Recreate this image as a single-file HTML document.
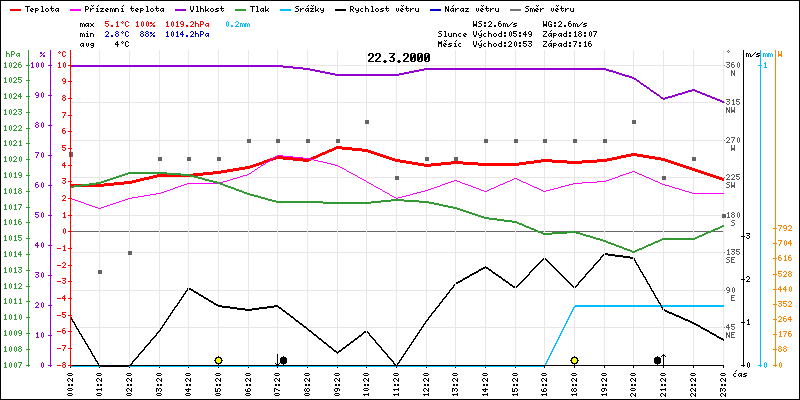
<!DOCTYPE html>
<html><head><meta charset="utf-8"><title>chart</title>
<style>
html,body{margin:0;padding:0;background:#fff;}
body{width:800px;height:400px;overflow:hidden;}
svg{display:block;font-family:"Liberation Sans",sans-serif;}
rect,polyline,path{shape-rendering:crispEdges;}
</style></head><body>
<svg width="800" height="400" viewBox="0 0 800 400">
<rect x="0" y="0" width="800" height="400" fill="#fff"/>
<defs><path id="b2e" d="M3 9h2v1h-2zM2 10h4v1h-4zM3 11h2v1h-2z"/><path id="b30" d="M2 2h4v1h-4zM1 3h2v1h-2zM5 3h2v1h-2zM1 4h2v1h-2zM4 4h3v1h-3zM1 5h2v1h-2zM4 5h3v1h-3zM1 6h6v1h-6zM1 7h3v1h-3zM5 7h2v1h-2zM1 8h3v1h-3zM5 8h2v1h-2zM1 9h2v1h-2zM5 9h2v1h-2zM2 10h4v1h-4z"/><path id="b32" d="M2 2h4v1h-4zM1 3h2v1h-2zM5 3h2v1h-2zM1 4h2v1h-2zM5 4h2v1h-2zM5 5h2v1h-2zM4 6h2v1h-2zM3 7h2v1h-2zM2 8h2v1h-2zM1 9h2v1h-2zM1 10h6v1h-6z"/><path id="b33" d="M1 2h6v1h-6zM5 3h2v1h-2zM4 4h2v1h-2zM3 5h2v1h-2zM2 6h4v1h-4zM5 7h2v1h-2zM5 8h2v1h-2zM1 9h2v1h-2zM5 9h2v1h-2zM2 10h4v1h-4z"/><path id="g10d" d="M3 0h1v1h-1zM2 1h1v1h-1zM1 3h2v1h-2zM0 4h1v1h-1zM0 5h1v1h-1zM1 6h2v1h-2z"/><path id="g11b" d="M1 0h1v1h-1zM3 0h1v1h-1zM2 1h1v1h-1zM1 3h2v1h-2zM0 4h1v1h-1zM2 4h2v1h-2zM0 5h2v1h-2zM1 6h2v1h-2z"/><path id="g159" d="M1 0h1v1h-1zM3 0h1v1h-1zM2 1h1v1h-1zM0 3h1v1h-1zM2 3h2v1h-2zM0 4h2v1h-2zM0 5h1v1h-1zM0 6h1v1h-1z"/><path id="g17e" d="M1 0h1v1h-1zM3 0h1v1h-1zM2 1h1v1h-1zM0 3h4v1h-4zM2 4h1v1h-1zM1 5h1v1h-1zM0 6h4v1h-4z"/><path id="g25" d="M0 2h2v1h-2zM4 2h1v1h-1zM0 3h2v1h-2zM3 3h1v1h-1zM2 4h1v1h-1zM1 5h1v1h-1zM3 5h2v1h-2zM0 6h1v1h-1zM3 6h2v1h-2z"/><path id="g2d" d="M0 4h4v1h-4z"/><path id="g2e" d="M1 5h2v1h-2zM1 6h2v1h-2z"/><path id="g2f" d="M4 2h1v1h-1zM3 3h1v1h-1zM2 4h1v1h-1zM1 5h1v1h-1zM0 6h1v1h-1z"/><path id="g30" d="M2 1h1v1h-1zM1 2h1v1h-1zM3 2h1v1h-1zM1 3h1v1h-1zM3 3h1v1h-1zM1 4h1v1h-1zM3 4h1v1h-1zM1 5h1v1h-1zM3 5h1v1h-1zM2 6h1v1h-1z"/><path id="g31" d="M2 1h1v1h-1zM1 2h2v1h-2zM2 3h1v1h-1zM2 4h1v1h-1zM2 5h1v1h-1zM1 6h3v1h-3z"/><path id="g32" d="M1 1h2v1h-2zM0 2h1v1h-1zM3 2h1v1h-1zM3 3h1v1h-1zM2 4h1v1h-1zM1 5h1v1h-1zM0 6h4v1h-4z"/><path id="g33" d="M0 1h4v1h-4zM3 2h1v1h-1zM1 3h2v1h-2zM3 4h1v1h-1zM0 5h1v1h-1zM3 5h1v1h-1zM1 6h2v1h-2z"/><path id="g34" d="M2 1h1v1h-1zM1 2h2v1h-2zM0 3h1v1h-1zM2 3h1v1h-1zM0 4h4v1h-4zM2 5h1v1h-1zM2 6h1v1h-1z"/><path id="g35" d="M0 1h4v1h-4zM0 2h1v1h-1zM0 3h3v1h-3zM3 4h1v1h-1zM0 5h1v1h-1zM3 5h1v1h-1zM1 6h2v1h-2z"/><path id="g36" d="M1 1h2v1h-2zM0 2h1v1h-1zM0 3h3v1h-3zM0 4h1v1h-1zM3 4h1v1h-1zM0 5h1v1h-1zM3 5h1v1h-1zM1 6h2v1h-2z"/><path id="g37" d="M0 1h4v1h-4zM3 2h1v1h-1zM2 3h1v1h-1zM2 4h1v1h-1zM1 5h1v1h-1zM1 6h1v1h-1z"/><path id="g38" d="M1 1h2v1h-2zM0 2h1v1h-1zM3 2h1v1h-1zM1 3h2v1h-2zM0 4h1v1h-1zM3 4h1v1h-1zM0 5h1v1h-1zM3 5h1v1h-1zM1 6h2v1h-2z"/><path id="g39" d="M1 1h2v1h-2zM0 2h1v1h-1zM3 2h1v1h-1zM0 3h1v1h-1zM3 3h1v1h-1zM1 4h3v1h-3zM3 5h1v1h-1zM1 6h2v1h-2z"/><path id="g3a" d="M1 2h2v1h-2zM1 3h2v1h-2zM1 5h2v1h-2zM1 6h2v1h-2z"/><path id="g43" d="M1 1h2v1h-2zM0 2h1v1h-1zM3 2h1v1h-1zM0 3h1v1h-1zM0 4h1v1h-1zM0 5h1v1h-1zM3 5h1v1h-1zM1 6h2v1h-2z"/><path id="g45" d="M0 1h4v1h-4zM0 2h1v1h-1zM0 3h3v1h-3zM0 4h1v1h-1zM0 5h1v1h-1zM0 6h4v1h-4z"/><path id="g47" d="M1 1h2v1h-2zM0 2h1v1h-1zM3 2h1v1h-1zM0 3h1v1h-1zM0 4h1v1h-1zM2 4h2v1h-2zM0 5h1v1h-1zM3 5h1v1h-1zM1 6h3v1h-3z"/><path id="g4d" d="M0 1h1v1h-1zM3 1h1v1h-1zM0 2h4v1h-4zM0 3h4v1h-4zM0 4h1v1h-1zM3 4h1v1h-1zM0 5h1v1h-1zM3 5h1v1h-1zM0 6h1v1h-1zM3 6h1v1h-1z"/><path id="g4e" d="M0 1h1v1h-1zM3 1h1v1h-1zM0 2h2v1h-2zM3 2h1v1h-1zM0 3h2v1h-2zM3 3h1v1h-1zM0 4h1v1h-1zM2 4h2v1h-2zM0 5h1v1h-1zM2 5h2v1h-2zM0 6h1v1h-1zM3 6h1v1h-1z"/><path id="g50" d="M0 1h3v1h-3zM0 2h1v1h-1zM3 2h1v1h-1zM0 3h1v1h-1zM3 3h1v1h-1zM0 4h3v1h-3zM0 5h1v1h-1zM0 6h1v1h-1z"/><path id="g52" d="M0 1h3v1h-3zM0 2h1v1h-1zM3 2h1v1h-1zM0 3h1v1h-1zM3 3h1v1h-1zM0 4h3v1h-3zM0 5h1v1h-1zM2 5h1v1h-1zM0 6h1v1h-1zM3 6h1v1h-1z"/><path id="g53" d="M1 1h3v1h-3zM0 2h1v1h-1zM1 3h2v1h-2zM3 4h1v1h-1zM3 5h1v1h-1zM0 6h3v1h-3z"/><path id="g54" d="M0 1h5v1h-5zM2 2h1v1h-1zM2 3h1v1h-1zM2 4h1v1h-1zM2 5h1v1h-1zM2 6h1v1h-1z"/><path id="g56" d="M0 1h1v1h-1zM3 1h1v1h-1zM0 2h1v1h-1zM3 2h1v1h-1zM0 3h1v1h-1zM3 3h1v1h-1zM0 4h1v1h-1zM3 4h1v1h-1zM1 5h2v1h-2zM1 6h2v1h-2z"/><path id="g57" d="M0 1h1v1h-1zM3 1h1v1h-1zM0 2h1v1h-1zM3 2h1v1h-1zM0 3h1v1h-1zM3 3h1v1h-1zM0 4h4v1h-4zM0 5h4v1h-4zM0 6h1v1h-1zM3 6h1v1h-1z"/><path id="g5a" d="M0 1h4v1h-4zM3 2h1v1h-1zM2 3h1v1h-1zM1 4h1v1h-1zM0 5h1v1h-1zM0 6h4v1h-4z"/><path id="g61" d="M1 3h3v1h-3zM0 4h1v1h-1zM3 4h1v1h-1zM0 5h1v1h-1zM2 5h2v1h-2zM1 6h1v1h-1zM3 6h1v1h-1z"/><path id="g63" d="M1 3h2v1h-2zM0 4h1v1h-1zM0 5h1v1h-1zM1 6h2v1h-2z"/><path id="g64" d="M3 1h1v1h-1zM3 2h1v1h-1zM1 3h3v1h-3zM0 4h1v1h-1zM3 4h1v1h-1zM0 5h1v1h-1zM3 5h1v1h-1zM1 6h3v1h-3z"/><path id="g65" d="M1 3h2v1h-2zM0 4h1v1h-1zM2 4h2v1h-2zM0 5h2v1h-2zM1 6h2v1h-2z"/><path id="g67" d="M1 3h3v1h-3zM0 4h1v1h-1zM3 4h1v1h-1zM1 5h3v1h-3zM3 6h1v1h-1zM1 7h2v1h-2z"/><path id="g68" d="M0 1h1v1h-1zM0 2h1v1h-1zM0 3h3v1h-3zM0 4h1v1h-1zM3 4h1v1h-1zM0 5h1v1h-1zM3 5h1v1h-1zM0 6h1v1h-1zM3 6h1v1h-1z"/><path id="g69" d="M2 1h1v1h-1zM1 3h2v1h-2zM2 4h1v1h-1zM2 5h1v1h-1zM1 6h3v1h-3z"/><path id="g6b" d="M0 1h1v1h-1zM0 2h1v1h-1zM0 3h1v1h-1zM3 3h1v1h-1zM0 4h1v1h-1zM2 4h1v1h-1zM0 5h3v1h-3zM0 6h1v1h-1zM3 6h1v1h-1z"/><path id="g6c" d="M1 1h2v1h-2zM2 2h1v1h-1zM2 3h1v1h-1zM2 4h1v1h-1zM2 5h1v1h-1zM1 6h3v1h-3z"/><path id="g6d" d="M0 3h2v1h-2zM3 3h1v1h-1zM0 4h1v1h-1zM2 4h1v1h-1zM4 4h1v1h-1zM0 5h1v1h-1zM2 5h1v1h-1zM4 5h1v1h-1zM0 6h1v1h-1zM2 6h1v1h-1zM4 6h1v1h-1z"/><path id="g6e" d="M0 3h3v1h-3zM0 4h1v1h-1zM3 4h1v1h-1zM0 5h1v1h-1zM3 5h1v1h-1zM0 6h1v1h-1zM3 6h1v1h-1z"/><path id="g6f" d="M1 3h2v1h-2zM0 4h1v1h-1zM3 4h1v1h-1zM0 5h1v1h-1zM3 5h1v1h-1zM1 6h2v1h-2z"/><path id="g70" d="M0 3h3v1h-3zM0 4h1v1h-1zM3 4h1v1h-1zM0 5h3v1h-3zM0 6h1v1h-1zM0 7h1v1h-1z"/><path id="g72" d="M0 3h1v1h-1zM2 3h2v1h-2zM0 4h2v1h-2zM0 5h1v1h-1zM0 6h1v1h-1z"/><path id="g73" d="M1 3h3v1h-3zM0 4h2v1h-2zM2 5h2v1h-2zM0 6h3v1h-3z"/><path id="g74" d="M1 1h1v1h-1zM1 2h1v1h-1zM0 3h4v1h-4zM1 4h1v1h-1zM1 5h1v1h-1zM3 5h1v1h-1zM2 6h1v1h-1z"/><path id="g75" d="M0 3h1v1h-1zM3 3h1v1h-1zM0 4h1v1h-1zM3 4h1v1h-1zM0 5h1v1h-1zM3 5h1v1h-1zM1 6h3v1h-3z"/><path id="g76" d="M1 3h1v1h-1zM3 3h1v1h-1zM1 4h1v1h-1zM3 4h1v1h-1zM1 5h1v1h-1zM3 5h1v1h-1zM2 6h1v1h-1z"/><path id="g78" d="M0 3h1v1h-1zM3 3h1v1h-1zM1 4h2v1h-2zM1 5h2v1h-2zM0 6h1v1h-1zM3 6h1v1h-1z"/><path id="g79" d="M0 3h1v1h-1zM3 3h1v1h-1zM0 4h1v1h-1zM3 4h1v1h-1zM1 5h3v1h-3zM3 6h1v1h-1zM1 7h2v1h-2z"/><path id="g7a" d="M0 3h4v1h-4zM2 4h1v1h-1zM1 5h1v1h-1zM0 6h4v1h-4z"/><path id="gb0" d="M2 1h1v1h-1zM1 2h1v1h-1zM3 2h1v1h-1zM2 3h1v1h-1z"/><path id="ge1" d="M3 0h1v1h-1zM2 1h1v1h-1zM1 3h3v1h-3zM0 4h1v1h-1zM3 4h1v1h-1zM0 5h1v1h-1zM2 5h2v1h-2zM1 6h1v1h-1zM3 6h1v1h-1z"/><path id="ged" d="M3 0h1v1h-1zM2 1h1v1h-1zM1 3h2v1h-2zM2 4h1v1h-1zM2 5h1v1h-1zM1 6h3v1h-3z"/><path id="gfd" d="M3 0h1v1h-1zM2 1h1v1h-1zM0 3h1v1h-1zM3 3h1v1h-1zM0 4h1v1h-1zM3 4h1v1h-1zM1 5h3v1h-3zM3 6h1v1h-1zM1 7h2v1h-2z"/></defs>
<rect x="71" y="231" width="652" height="1" fill="#666666"/>
<rect x="99" y="50" width="1" height="315" fill="#ebe6e6"/>
<rect x="129" y="50" width="1" height="315" fill="#ebe6e6"/>
<rect x="159" y="50" width="1" height="315" fill="#ebe6e6"/>
<rect x="188" y="50" width="1" height="315" fill="#ebe6e6"/>
<rect x="218" y="50" width="1" height="315" fill="#ebe6e6"/>
<rect x="248" y="50" width="1" height="315" fill="#ebe6e6"/>
<rect x="277" y="50" width="1" height="315" fill="#ebe6e6"/>
<rect x="307" y="50" width="1" height="315" fill="#ebe6e6"/>
<rect x="337" y="50" width="1" height="315" fill="#ebe6e6"/>
<rect x="366" y="50" width="1" height="315" fill="#ebe6e6"/>
<rect x="396" y="50" width="1" height="315" fill="#ebe6e6"/>
<rect x="426" y="50" width="1" height="315" fill="#ebe6e6"/>
<rect x="455" y="50" width="1" height="315" fill="#ebe6e6"/>
<rect x="485" y="50" width="1" height="315" fill="#ebe6e6"/>
<rect x="515" y="50" width="1" height="315" fill="#ebe6e6"/>
<rect x="544" y="50" width="1" height="315" fill="#ebe6e6"/>
<rect x="574" y="50" width="1" height="315" fill="#ebe6e6"/>
<rect x="604" y="50" width="1" height="315" fill="#ebe6e6"/>
<rect x="633" y="50" width="1" height="315" fill="#ebe6e6"/>
<rect x="663" y="50" width="1" height="315" fill="#ebe6e6"/>
<rect x="693" y="50" width="1" height="315" fill="#ebe6e6"/>
<rect x="723" y="50" width="1" height="315" fill="#ebe6e6"/>
<rect x="71" y="65" width="653" height="1" fill="#ebe6e6"/>
<rect x="71" y="102" width="653" height="1" fill="#ebe6e6"/>
<rect x="71" y="140" width="653" height="1" fill="#ebe6e6"/>
<rect x="71" y="177" width="653" height="1" fill="#ebe6e6"/>
<rect x="71" y="215" width="653" height="1" fill="#ebe6e6"/>
<rect x="71" y="252" width="653" height="1" fill="#ebe6e6"/>
<rect x="71" y="290" width="653" height="1" fill="#ebe6e6"/>
<rect x="71" y="327" width="653" height="1" fill="#ebe6e6"/>
<rect x="70" y="365" width="1" height="3" fill="#000"/>
<rect x="99" y="365" width="1" height="3" fill="#000"/>
<rect x="129" y="365" width="1" height="3" fill="#000"/>
<rect x="159" y="365" width="1" height="3" fill="#000"/>
<rect x="188" y="365" width="1" height="3" fill="#000"/>
<rect x="218" y="365" width="1" height="3" fill="#000"/>
<rect x="248" y="365" width="1" height="3" fill="#000"/>
<rect x="277" y="365" width="1" height="3" fill="#000"/>
<rect x="307" y="365" width="1" height="3" fill="#000"/>
<rect x="337" y="365" width="1" height="3" fill="#000"/>
<rect x="366" y="365" width="1" height="3" fill="#000"/>
<rect x="396" y="365" width="1" height="3" fill="#000"/>
<rect x="426" y="365" width="1" height="3" fill="#000"/>
<rect x="455" y="365" width="1" height="3" fill="#000"/>
<rect x="485" y="365" width="1" height="3" fill="#000"/>
<rect x="515" y="365" width="1" height="3" fill="#000"/>
<rect x="544" y="365" width="1" height="3" fill="#000"/>
<rect x="574" y="365" width="1" height="3" fill="#000"/>
<rect x="604" y="365" width="1" height="3" fill="#000"/>
<rect x="633" y="365" width="1" height="3" fill="#000"/>
<rect x="663" y="365" width="1" height="3" fill="#000"/>
<rect x="693" y="365" width="1" height="3" fill="#000"/>
<rect x="723" y="365" width="1" height="3" fill="#000"/>
<rect x="724" y="65" width="1" height="1" fill="#7a7a7a"/>
<g fill="#5c5c5c" transform="translate(726,61)"><use href="#g33" x="0"/><use href="#g36" x="5"/><use href="#g30" x="10"/></g>
<g fill="#5c5c5c" transform="translate(731,69)"><use href="#g4e" x="0"/></g>
<rect x="724" y="102" width="1" height="1" fill="#7a7a7a"/>
<g fill="#5c5c5c" transform="translate(726,98)"><use href="#g33" x="0"/><use href="#g31" x="5"/><use href="#g35" x="10"/></g>
<g fill="#5c5c5c" transform="translate(726,106)"><use href="#g4e" x="0"/><use href="#g57" x="5"/></g>
<rect x="724" y="140" width="1" height="1" fill="#7a7a7a"/>
<g fill="#5c5c5c" transform="translate(726,136)"><use href="#g32" x="0"/><use href="#g37" x="5"/><use href="#g30" x="10"/></g>
<g fill="#5c5c5c" transform="translate(731,144)"><use href="#g57" x="0"/></g>
<rect x="724" y="177" width="1" height="1" fill="#7a7a7a"/>
<g fill="#5c5c5c" transform="translate(726,173)"><use href="#g32" x="0"/><use href="#g32" x="5"/><use href="#g35" x="10"/></g>
<g fill="#5c5c5c" transform="translate(726,181)"><use href="#g53" x="0"/><use href="#g57" x="5"/></g>
<rect x="724" y="215" width="1" height="1" fill="#7a7a7a"/>
<g fill="#5c5c5c" transform="translate(726,211)"><use href="#g31" x="0"/><use href="#g38" x="5"/><use href="#g30" x="10"/></g>
<g fill="#5c5c5c" transform="translate(731,219)"><use href="#g53" x="0"/></g>
<rect x="724" y="252" width="1" height="1" fill="#7a7a7a"/>
<g fill="#5c5c5c" transform="translate(726,248)"><use href="#g31" x="0"/><use href="#g33" x="5"/><use href="#g35" x="10"/></g>
<g fill="#5c5c5c" transform="translate(726,256)"><use href="#g53" x="0"/><use href="#g45" x="5"/></g>
<rect x="724" y="290" width="1" height="1" fill="#7a7a7a"/>
<g fill="#5c5c5c" transform="translate(726,286)"><use href="#g39" x="0"/><use href="#g30" x="5"/></g>
<g fill="#5c5c5c" transform="translate(731,294)"><use href="#g45" x="0"/></g>
<rect x="724" y="327" width="1" height="1" fill="#7a7a7a"/>
<g fill="#5c5c5c" transform="translate(726,323)"><use href="#g34" x="0"/><use href="#g35" x="5"/></g>
<g fill="#5c5c5c" transform="translate(726,331)"><use href="#g4e" x="0"/><use href="#g45" x="5"/></g>
<g fill="#5c5c5c" transform="translate(726,49)"><use href="#gb0" x="0"/></g>
<path d="M70.00,184.00 L100.00,184.00 L100.00,187.00 L70.00,187.00Z M99.00,184.05 L130.00,180.95 L130.00,183.95 L99.00,187.05Z M129.00,181.12 L160.00,173.88 L160.00,176.88 L129.00,184.12Z M159.00,174.00 L189.00,174.00 L189.00,177.00 L159.00,177.00Z M188.00,174.05 L219.00,170.95 L219.00,173.95 L188.00,177.05Z M218.00,171.08 L249.00,165.92 L249.00,168.92 L218.00,174.08Z M248.00,166.17 L278.00,155.83 L278.00,158.83 L248.00,169.17Z M277.00,155.95 L308.00,159.05 L308.00,162.05 L277.00,158.95Z M307.00,159.22 L338.00,145.78 L338.00,148.78 L307.00,162.22Z M337.00,145.95 L367.00,149.05 L367.00,152.05 L337.00,148.95Z M366.00,148.83 L397.00,159.17 L397.00,162.17 L366.00,151.83Z M396.00,158.92 L427.00,164.08 L427.00,167.08 L396.00,161.92Z M426.00,164.05 L456.00,160.95 L456.00,163.95 L426.00,167.05Z M455.00,160.97 L486.00,163.03 L486.00,166.03 L455.00,163.97Z M485.00,163.00 L516.00,163.00 L516.00,166.00 L485.00,166.00Z M515.00,163.07 L545.00,158.93 L545.00,161.93 L515.00,166.07Z M544.00,158.97 L575.00,161.03 L575.00,164.03 L544.00,161.97Z M574.00,161.03 L605.00,158.97 L605.00,161.97 L574.00,164.03Z M604.00,159.10 L634.00,152.90 L634.00,155.90 L604.00,162.10Z M633.00,152.92 L664.00,158.08 L664.00,161.08 L633.00,155.92Z M663.00,157.83 L694.00,168.17 L694.00,171.17 L663.00,160.83Z M693.00,167.83 L724.00,178.17 L724.00,181.17 L693.00,170.83Z" fill="#ff0000" shape-rendering="crispEdges"/>
<path d="M70.00,197.83 L100.00,208.17 L100.00,209.17 L70.00,198.83Z M99.00,208.17 L130.00,197.83 L130.00,198.83 L99.00,209.17Z M129.00,198.08 L160.00,192.92 L160.00,193.92 L129.00,199.08Z M159.00,193.17 L189.00,182.83 L189.00,183.83 L159.00,194.17Z M188.00,183.00 L219.00,183.00 L219.00,184.00 L188.00,184.00Z M218.00,183.15 L249.00,173.85 L249.00,174.85 L218.00,184.15Z M248.00,174.33 L278.00,154.67 L278.00,155.67 L248.00,175.33Z M277.00,154.95 L308.00,158.05 L308.00,159.05 L277.00,155.95Z M307.00,157.88 L338.00,165.12 L338.00,166.12 L307.00,158.88Z M337.00,164.72 L367.00,181.28 L367.00,182.28 L337.00,165.72Z M366.00,180.72 L397.00,198.28 L397.00,199.28 L366.00,181.72Z M396.00,198.13 L427.00,189.87 L427.00,190.87 L396.00,199.13Z M426.00,190.17 L456.00,179.83 L456.00,180.83 L426.00,191.17Z M455.00,179.82 L486.00,191.18 L486.00,192.18 L455.00,180.82Z M485.00,191.22 L516.00,177.78 L516.00,178.78 L485.00,192.22Z M515.00,177.78 L545.00,191.22 L545.00,192.22 L515.00,178.78Z M544.00,191.13 L575.00,182.87 L575.00,183.87 L544.00,192.13Z M574.00,183.03 L605.00,180.97 L605.00,181.97 L574.00,184.03Z M604.00,181.17 L634.00,170.83 L634.00,171.83 L604.00,182.17Z M633.00,170.78 L664.00,184.22 L664.00,185.22 L633.00,171.78Z M663.00,183.85 L694.00,193.15 L694.00,194.15 L663.00,184.85Z M693.00,193.00 L724.00,193.00 L724.00,194.00 L693.00,194.00Z" fill="#ff00ff" shape-rendering="crispEdges"/>
<path d="M70.00,65.00 L100.00,65.00 L100.00,67.00 L70.00,67.00Z M99.00,65.00 L130.00,65.00 L130.00,67.00 L99.00,67.00Z M129.00,65.00 L160.00,65.00 L160.00,67.00 L129.00,67.00Z M159.00,65.00 L189.00,65.00 L189.00,67.00 L159.00,67.00Z M188.00,65.00 L219.00,65.00 L219.00,67.00 L188.00,67.00Z M218.00,65.00 L249.00,65.00 L249.00,67.00 L218.00,67.00Z M248.00,65.00 L278.00,65.00 L278.00,67.00 L248.00,67.00Z M277.00,64.95 L308.00,68.05 L308.00,70.05 L277.00,66.95Z M307.00,67.90 L338.00,74.10 L338.00,76.10 L307.00,69.90Z M337.00,74.00 L367.00,74.00 L367.00,76.00 L337.00,76.00Z M366.00,74.00 L397.00,74.00 L397.00,76.00 L366.00,76.00Z M396.00,74.10 L427.00,67.90 L427.00,69.90 L396.00,76.10Z M426.00,68.00 L456.00,68.00 L456.00,70.00 L426.00,70.00Z M455.00,68.00 L486.00,68.00 L486.00,70.00 L455.00,70.00Z M485.00,68.00 L516.00,68.00 L516.00,70.00 L485.00,70.00Z M515.00,68.00 L545.00,68.00 L545.00,70.00 L515.00,70.00Z M544.00,68.00 L575.00,68.00 L575.00,70.00 L544.00,70.00Z M574.00,68.00 L605.00,68.00 L605.00,70.00 L574.00,70.00Z M604.00,67.84 L634.00,77.16 L634.00,79.16 L604.00,69.84Z M633.00,76.65 L664.00,98.35 L664.00,100.35 L633.00,78.65Z M663.00,98.15 L694.00,88.85 L694.00,90.85 L663.00,100.15Z M693.00,88.80 L724.00,101.20 L724.00,103.20 L693.00,90.80Z" fill="#9400d3" shape-rendering="crispEdges"/>
<path d="M70.00,186.07 L100.00,181.93 L100.00,183.93 L70.00,188.07Z M99.00,182.17 L130.00,171.83 L130.00,173.83 L99.00,184.17Z M129.00,172.00 L160.00,172.00 L160.00,174.00 L129.00,174.00Z M159.00,171.97 L189.00,174.03 L189.00,176.03 L159.00,173.97Z M188.00,173.87 L219.00,182.13 L219.00,184.13 L188.00,175.87Z M218.00,181.82 L249.00,193.18 L249.00,195.18 L218.00,183.82Z M248.00,192.86 L278.00,201.14 L278.00,203.14 L248.00,194.86Z M277.00,201.00 L308.00,201.00 L308.00,203.00 L277.00,203.00Z M307.00,200.98 L338.00,202.02 L338.00,204.02 L307.00,202.98Z M337.00,202.00 L367.00,202.00 L367.00,204.00 L337.00,204.00Z M366.00,202.05 L397.00,198.95 L397.00,200.95 L366.00,204.05Z M396.00,198.97 L427.00,201.03 L427.00,203.03 L396.00,200.97Z M426.00,200.90 L456.00,207.10 L456.00,209.10 L426.00,202.90Z M455.00,206.83 L486.00,217.17 L486.00,219.17 L455.00,208.83Z M485.00,216.93 L516.00,221.07 L516.00,223.07 L485.00,218.93Z M515.00,220.79 L545.00,233.21 L545.00,235.21 L515.00,222.79Z M544.00,233.03 L575.00,230.97 L575.00,232.97 L544.00,235.03Z M574.00,230.85 L605.00,240.15 L605.00,242.15 L574.00,232.85Z M604.00,239.81 L634.00,251.19 L634.00,253.19 L604.00,241.81Z M633.00,251.22 L664.00,237.78 L664.00,239.78 L633.00,253.22Z M663.00,238.00 L694.00,238.00 L694.00,240.00 L663.00,240.00Z M693.00,238.22 L724.00,224.78 L724.00,226.78 L693.00,240.22Z" fill="#339933" shape-rendering="crispEdges"/>
<path d="M70.00,365.00 L100.00,365.00 L100.00,367.00 L70.00,367.00Z M99.00,365.00 L130.00,365.00 L130.00,367.00 L99.00,367.00Z M129.00,365.00 L160.00,365.00 L160.00,367.00 L129.00,367.00Z M159.00,365.00 L189.00,365.00 L189.00,367.00 L159.00,367.00Z M188.00,365.00 L219.00,365.00 L219.00,367.00 L188.00,367.00Z M218.00,365.00 L249.00,365.00 L249.00,367.00 L218.00,367.00Z M248.00,365.00 L278.00,365.00 L278.00,367.00 L248.00,367.00Z M277.00,365.00 L308.00,365.00 L308.00,367.00 L277.00,367.00Z M307.00,365.00 L338.00,365.00 L338.00,367.00 L307.00,367.00Z M337.00,365.00 L367.00,365.00 L367.00,367.00 L337.00,367.00Z M366.00,365.00 L397.00,365.00 L397.00,367.00 L366.00,367.00Z M396.00,365.00 L427.00,365.00 L427.00,367.00 L396.00,367.00Z M426.00,365.00 L456.00,365.00 L456.00,367.00 L426.00,367.00Z M455.00,365.00 L486.00,365.00 L486.00,367.00 L455.00,367.00Z M485.00,365.00 L516.00,365.00 L516.00,367.00 L485.00,367.00Z M515.00,365.00 L545.00,365.00 L545.00,367.00 L515.00,367.00Z M574.25,305.00 L543.75,366.00 L544.75,366.00 L575.25,305.00Z M574.25,306.00 L543.75,367.00 L544.75,367.00 L575.25,306.00Z M574.00,305.00 L605.00,305.00 L605.00,307.00 L574.00,307.00Z M604.00,305.00 L634.00,305.00 L634.00,307.00 L604.00,307.00Z M633.00,305.00 L664.00,305.00 L664.00,307.00 L633.00,307.00Z M663.00,305.00 L694.00,305.00 L694.00,307.00 L663.00,307.00Z M693.00,305.00 L724.00,305.00 L724.00,307.00 L693.00,307.00Z" fill="#00bfff" shape-rendering="crispEdges"/>
<path d="M69.70,316.00 L99.30,366.00 L100.30,366.00 L70.70,316.00Z M69.70,317.00 L99.30,367.00 L100.30,367.00 L70.70,317.00Z M99.00,365.00 L130.00,365.00 L130.00,367.00 L99.00,367.00Z M159.43,330.00 L128.57,366.00 L129.57,366.00 L160.43,330.00Z M159.43,331.00 L128.57,367.00 L129.57,367.00 L160.43,331.00Z M188.34,287.00 L158.66,331.00 L159.66,331.00 L189.34,287.00Z M188.34,288.00 L158.66,332.00 L159.66,332.00 L189.34,288.00Z M188.00,286.70 L219.00,305.30 L219.00,307.30 L188.00,288.70Z M218.00,304.93 L249.00,309.07 L249.00,311.07 L218.00,306.93Z M248.00,309.07 L278.00,304.93 L278.00,306.93 L248.00,311.07Z M277.00,304.62 L308.00,328.38 L308.00,330.38 L277.00,306.62Z M307.00,327.60 L338.00,352.40 L338.00,354.40 L307.00,329.60Z M337.00,352.38 L367.00,329.62 L367.00,331.62 L337.00,354.38Z M365.57,330.00 L396.43,366.00 L397.43,366.00 L366.57,330.00Z M365.57,331.00 L396.43,367.00 L397.43,367.00 L366.57,331.00Z M426.33,320.00 L395.67,366.00 L396.67,366.00 L427.33,320.00Z M426.33,321.00 L395.67,367.00 L396.67,367.00 L427.33,321.00Z M455.39,283.00 L425.61,321.00 L426.61,321.00 L456.39,283.00Z M455.39,284.00 L425.61,322.00 L426.61,322.00 L456.39,284.00Z M455.00,283.28 L486.00,265.72 L486.00,267.72 L455.00,285.28Z M485.00,265.65 L516.00,287.35 L516.00,289.35 L485.00,267.65Z M544.48,257.00 L514.52,288.00 L515.52,288.00 L545.48,257.00Z M544.48,258.00 L514.52,289.00 L515.52,289.00 L545.48,258.00Z M544.00,256.50 L575.00,287.50 L575.00,289.50 L544.00,258.50Z M604.44,253.00 L573.56,288.00 L574.56,288.00 L605.44,253.00Z M604.44,254.00 L573.56,289.00 L574.56,289.00 L605.44,254.00Z M604.00,252.93 L634.00,257.07 L634.00,259.07 L604.00,254.93Z M632.71,257.00 L663.29,310.00 L664.29,310.00 L633.71,257.00Z M632.71,258.00 L663.29,311.00 L664.29,311.00 L633.71,258.00Z M663.00,308.78 L694.00,322.22 L694.00,324.22 L663.00,310.78Z M693.00,321.72 L724.00,339.28 L724.00,341.28 L693.00,323.72Z" fill="#000" shape-rendering="crispEdges"/>
<rect x="69" y="152" width="4" height="5" fill="#646464"/>
<rect x="98" y="270" width="4" height="4" fill="#646464"/>
<rect x="128" y="251" width="4" height="4" fill="#646464"/>
<rect x="158" y="157" width="4" height="4" fill="#646464"/>
<rect x="187" y="157" width="4" height="4" fill="#646464"/>
<rect x="217" y="157" width="4" height="4" fill="#646464"/>
<rect x="247" y="139" width="4" height="4" fill="#646464"/>
<rect x="276" y="139" width="4" height="4" fill="#646464"/>
<rect x="306" y="139" width="4" height="4" fill="#646464"/>
<rect x="336" y="139" width="4" height="4" fill="#646464"/>
<rect x="365" y="120" width="4" height="4" fill="#646464"/>
<rect x="395" y="176" width="4" height="4" fill="#646464"/>
<rect x="425" y="157" width="4" height="4" fill="#646464"/>
<rect x="454" y="157" width="4" height="4" fill="#646464"/>
<rect x="484" y="139" width="4" height="4" fill="#646464"/>
<rect x="514" y="139" width="4" height="4" fill="#646464"/>
<rect x="543" y="139" width="4" height="4" fill="#646464"/>
<rect x="573" y="139" width="4" height="4" fill="#646464"/>
<rect x="603" y="139" width="4" height="4" fill="#646464"/>
<rect x="632" y="120" width="4" height="4" fill="#646464"/>
<rect x="662" y="176" width="4" height="4" fill="#646464"/>
<rect x="692" y="157" width="4" height="4" fill="#646464"/>
<rect x="722" y="214" width="4" height="4" fill="#646464"/>
<rect x="28" y="50" width="1" height="317" fill="#339933"/>
<rect x="50" y="50" width="1" height="317" fill="#9400d3"/>
<rect x="70" y="50" width="1" height="317" fill="#ff0000"/>
<rect x="743" y="50" width="1" height="317" fill="#000"/>
<rect x="760" y="50" width="1" height="317" fill="#00bfff"/>
<rect x="775" y="50" width="1" height="317" fill="#ff8400"/>
<rect x="70" y="365" width="654" height="1" fill="#000"/>
<rect x="26" y="65" width="4" height="1" fill="#339933"/>
<g fill="#339933" transform="translate(3,61)"><use href="#g31" x="0"/><use href="#g30" x="5"/><use href="#g32" x="10"/><use href="#g36" x="15"/></g>
<rect x="26" y="80" width="4" height="1" fill="#339933"/>
<g fill="#339933" transform="translate(3,76)"><use href="#g31" x="0"/><use href="#g30" x="5"/><use href="#g32" x="10"/><use href="#g35" x="15"/></g>
<rect x="26" y="96" width="4" height="1" fill="#339933"/>
<g fill="#339933" transform="translate(3,92)"><use href="#g31" x="0"/><use href="#g30" x="5"/><use href="#g32" x="10"/><use href="#g34" x="15"/></g>
<rect x="26" y="112" width="4" height="1" fill="#339933"/>
<g fill="#339933" transform="translate(3,108)"><use href="#g31" x="0"/><use href="#g30" x="5"/><use href="#g32" x="10"/><use href="#g33" x="15"/></g>
<rect x="26" y="128" width="4" height="1" fill="#339933"/>
<g fill="#339933" transform="translate(3,124)"><use href="#g31" x="0"/><use href="#g30" x="5"/><use href="#g32" x="10"/><use href="#g32" x="15"/></g>
<rect x="26" y="143" width="4" height="1" fill="#339933"/>
<g fill="#339933" transform="translate(3,139)"><use href="#g31" x="0"/><use href="#g30" x="5"/><use href="#g32" x="10"/><use href="#g31" x="15"/></g>
<rect x="26" y="159" width="4" height="1" fill="#339933"/>
<g fill="#339933" transform="translate(3,155)"><use href="#g31" x="0"/><use href="#g30" x="5"/><use href="#g32" x="10"/><use href="#g30" x="15"/></g>
<rect x="26" y="175" width="4" height="1" fill="#339933"/>
<g fill="#339933" transform="translate(3,171)"><use href="#g31" x="0"/><use href="#g30" x="5"/><use href="#g31" x="10"/><use href="#g39" x="15"/></g>
<rect x="26" y="191" width="4" height="1" fill="#339933"/>
<g fill="#339933" transform="translate(3,187)"><use href="#g31" x="0"/><use href="#g30" x="5"/><use href="#g31" x="10"/><use href="#g38" x="15"/></g>
<rect x="26" y="207" width="4" height="1" fill="#339933"/>
<g fill="#339933" transform="translate(3,203)"><use href="#g31" x="0"/><use href="#g30" x="5"/><use href="#g31" x="10"/><use href="#g37" x="15"/></g>
<rect x="26" y="222" width="4" height="1" fill="#339933"/>
<g fill="#339933" transform="translate(3,218)"><use href="#g31" x="0"/><use href="#g30" x="5"/><use href="#g31" x="10"/><use href="#g36" x="15"/></g>
<rect x="26" y="238" width="4" height="1" fill="#339933"/>
<g fill="#339933" transform="translate(3,234)"><use href="#g31" x="0"/><use href="#g30" x="5"/><use href="#g31" x="10"/><use href="#g35" x="15"/></g>
<rect x="26" y="254" width="4" height="1" fill="#339933"/>
<g fill="#339933" transform="translate(3,250)"><use href="#g31" x="0"/><use href="#g30" x="5"/><use href="#g31" x="10"/><use href="#g34" x="15"/></g>
<rect x="26" y="270" width="4" height="1" fill="#339933"/>
<g fill="#339933" transform="translate(3,266)"><use href="#g31" x="0"/><use href="#g30" x="5"/><use href="#g31" x="10"/><use href="#g33" x="15"/></g>
<rect x="26" y="286" width="4" height="1" fill="#339933"/>
<g fill="#339933" transform="translate(3,282)"><use href="#g31" x="0"/><use href="#g30" x="5"/><use href="#g31" x="10"/><use href="#g32" x="15"/></g>
<rect x="26" y="301" width="4" height="1" fill="#339933"/>
<g fill="#339933" transform="translate(3,297)"><use href="#g31" x="0"/><use href="#g30" x="5"/><use href="#g31" x="10"/><use href="#g31" x="15"/></g>
<rect x="26" y="317" width="4" height="1" fill="#339933"/>
<g fill="#339933" transform="translate(3,313)"><use href="#g31" x="0"/><use href="#g30" x="5"/><use href="#g31" x="10"/><use href="#g30" x="15"/></g>
<rect x="26" y="333" width="4" height="1" fill="#339933"/>
<g fill="#339933" transform="translate(3,329)"><use href="#g31" x="0"/><use href="#g30" x="5"/><use href="#g30" x="10"/><use href="#g39" x="15"/></g>
<rect x="26" y="349" width="4" height="1" fill="#339933"/>
<g fill="#339933" transform="translate(3,345)"><use href="#g31" x="0"/><use href="#g30" x="5"/><use href="#g30" x="10"/><use href="#g38" x="15"/></g>
<rect x="26" y="365" width="4" height="1" fill="#339933"/>
<g fill="#339933" transform="translate(3,361)"><use href="#g31" x="0"/><use href="#g30" x="5"/><use href="#g30" x="10"/><use href="#g37" x="15"/></g>
<rect x="48" y="65" width="4" height="1" fill="#9400d3"/>
<g fill="#9400d3" transform="translate(30,61)"><use href="#g31" x="0"/><use href="#g30" x="5"/><use href="#g30" x="10"/></g>
<rect x="48" y="95" width="4" height="1" fill="#9400d3"/>
<g fill="#9400d3" transform="translate(35,91)"><use href="#g39" x="0"/><use href="#g30" x="5"/></g>
<rect x="48" y="125" width="4" height="1" fill="#9400d3"/>
<g fill="#9400d3" transform="translate(35,121)"><use href="#g38" x="0"/><use href="#g30" x="5"/></g>
<rect x="48" y="155" width="4" height="1" fill="#9400d3"/>
<g fill="#9400d3" transform="translate(35,151)"><use href="#g37" x="0"/><use href="#g30" x="5"/></g>
<rect x="48" y="185" width="4" height="1" fill="#9400d3"/>
<g fill="#9400d3" transform="translate(35,181)"><use href="#g36" x="0"/><use href="#g30" x="5"/></g>
<rect x="48" y="215" width="4" height="1" fill="#9400d3"/>
<g fill="#9400d3" transform="translate(35,211)"><use href="#g35" x="0"/><use href="#g30" x="5"/></g>
<rect x="48" y="245" width="4" height="1" fill="#9400d3"/>
<g fill="#9400d3" transform="translate(35,241)"><use href="#g34" x="0"/><use href="#g30" x="5"/></g>
<rect x="48" y="275" width="4" height="1" fill="#9400d3"/>
<g fill="#9400d3" transform="translate(35,271)"><use href="#g33" x="0"/><use href="#g30" x="5"/></g>
<rect x="48" y="305" width="4" height="1" fill="#9400d3"/>
<g fill="#9400d3" transform="translate(35,301)"><use href="#g32" x="0"/><use href="#g30" x="5"/></g>
<rect x="48" y="335" width="4" height="1" fill="#9400d3"/>
<g fill="#9400d3" transform="translate(35,331)"><use href="#g31" x="0"/><use href="#g30" x="5"/></g>
<rect x="48" y="365" width="4" height="1" fill="#9400d3"/>
<g fill="#9400d3" transform="translate(40,361)"><use href="#g30" x="0"/></g>
<rect x="68" y="65" width="4" height="1" fill="#ff0000"/>
<g fill="#ff0000" transform="translate(57,61)"><use href="#g31" x="0"/><use href="#g30" x="5"/></g>
<rect x="68" y="81" width="4" height="1" fill="#ff0000"/>
<g fill="#ff0000" transform="translate(62,77)"><use href="#g39" x="0"/></g>
<rect x="68" y="98" width="4" height="1" fill="#ff0000"/>
<g fill="#ff0000" transform="translate(62,94)"><use href="#g38" x="0"/></g>
<rect x="68" y="115" width="4" height="1" fill="#ff0000"/>
<g fill="#ff0000" transform="translate(62,111)"><use href="#g37" x="0"/></g>
<rect x="68" y="131" width="4" height="1" fill="#ff0000"/>
<g fill="#ff0000" transform="translate(62,127)"><use href="#g36" x="0"/></g>
<rect x="68" y="148" width="4" height="1" fill="#ff0000"/>
<g fill="#ff0000" transform="translate(62,144)"><use href="#g35" x="0"/></g>
<rect x="68" y="165" width="4" height="1" fill="#ff0000"/>
<g fill="#ff0000" transform="translate(62,161)"><use href="#g34" x="0"/></g>
<rect x="68" y="181" width="4" height="1" fill="#ff0000"/>
<g fill="#ff0000" transform="translate(62,177)"><use href="#g33" x="0"/></g>
<rect x="68" y="198" width="4" height="1" fill="#ff0000"/>
<g fill="#ff0000" transform="translate(62,194)"><use href="#g32" x="0"/></g>
<rect x="68" y="215" width="4" height="1" fill="#ff0000"/>
<g fill="#ff0000" transform="translate(62,211)"><use href="#g31" x="0"/></g>
<rect x="68" y="231" width="4" height="1" fill="#ff0000"/>
<g fill="#ff0000" transform="translate(62,227)"><use href="#g30" x="0"/></g>
<rect x="68" y="248" width="4" height="1" fill="#ff0000"/>
<g fill="#ff0000" transform="translate(57,244)"><use href="#g2d" x="0"/><use href="#g31" x="5"/></g>
<rect x="68" y="265" width="4" height="1" fill="#ff0000"/>
<g fill="#ff0000" transform="translate(57,261)"><use href="#g2d" x="0"/><use href="#g32" x="5"/></g>
<rect x="68" y="281" width="4" height="1" fill="#ff0000"/>
<g fill="#ff0000" transform="translate(57,277)"><use href="#g2d" x="0"/><use href="#g33" x="5"/></g>
<rect x="68" y="298" width="4" height="1" fill="#ff0000"/>
<g fill="#ff0000" transform="translate(57,294)"><use href="#g2d" x="0"/><use href="#g34" x="5"/></g>
<rect x="68" y="315" width="4" height="1" fill="#ff0000"/>
<g fill="#ff0000" transform="translate(57,311)"><use href="#g2d" x="0"/><use href="#g35" x="5"/></g>
<rect x="68" y="331" width="4" height="1" fill="#ff0000"/>
<g fill="#ff0000" transform="translate(57,327)"><use href="#g2d" x="0"/><use href="#g36" x="5"/></g>
<rect x="68" y="348" width="4" height="1" fill="#ff0000"/>
<g fill="#ff0000" transform="translate(57,344)"><use href="#g2d" x="0"/><use href="#g37" x="5"/></g>
<rect x="68" y="365" width="4" height="1" fill="#ff0000"/>
<g fill="#ff0000" transform="translate(57,361)"><use href="#g2d" x="0"/><use href="#g38" x="5"/></g>
<rect x="741" y="365" width="4" height="1" fill="#000"/>
<g fill="#000" transform="translate(746,361)"><use href="#g30" x="0"/></g>
<rect x="741" y="322" width="4" height="1" fill="#000"/>
<g fill="#000" transform="translate(746,318)"><use href="#g31" x="0"/></g>
<rect x="741" y="279" width="4" height="1" fill="#000"/>
<g fill="#000" transform="translate(746,275)"><use href="#g32" x="0"/></g>
<rect x="741" y="236" width="4" height="1" fill="#000"/>
<g fill="#000" transform="translate(746,232)"><use href="#g33" x="0"/></g>
<rect x="758" y="65" width="4" height="1" fill="#00bfff"/>
<g fill="#00bfff" transform="translate(763,61)"><use href="#g31" x="0"/></g>
<rect x="758" y="365" width="4" height="1" fill="#00bfff"/>
<g fill="#00bfff" transform="translate(763,361)"><use href="#g30" x="0"/></g>
<rect x="773" y="365" width="4" height="1" fill="#ff8400"/>
<g fill="#ff8400" transform="translate(778,361)"><use href="#g30" x="0"/></g>
<rect x="773" y="349" width="4" height="1" fill="#ff8400"/>
<g fill="#ff8400" transform="translate(778,345)"><use href="#g38" x="0"/><use href="#g38" x="5"/></g>
<rect x="773" y="334" width="4" height="1" fill="#ff8400"/>
<g fill="#ff8400" transform="translate(778,330)"><use href="#g31" x="0"/><use href="#g37" x="5"/><use href="#g36" x="10"/></g>
<rect x="773" y="319" width="4" height="1" fill="#ff8400"/>
<g fill="#ff8400" transform="translate(778,315)"><use href="#g32" x="0"/><use href="#g36" x="5"/><use href="#g34" x="10"/></g>
<rect x="773" y="304" width="4" height="1" fill="#ff8400"/>
<g fill="#ff8400" transform="translate(778,300)"><use href="#g33" x="0"/><use href="#g35" x="5"/><use href="#g32" x="10"/></g>
<rect x="773" y="289" width="4" height="1" fill="#ff8400"/>
<g fill="#ff8400" transform="translate(778,285)"><use href="#g34" x="0"/><use href="#g34" x="5"/><use href="#g30" x="10"/></g>
<rect x="773" y="274" width="4" height="1" fill="#ff8400"/>
<g fill="#ff8400" transform="translate(778,270)"><use href="#g35" x="0"/><use href="#g32" x="5"/><use href="#g38" x="10"/></g>
<rect x="773" y="258" width="4" height="1" fill="#ff8400"/>
<g fill="#ff8400" transform="translate(778,254)"><use href="#g36" x="0"/><use href="#g31" x="5"/><use href="#g36" x="10"/></g>
<rect x="773" y="243" width="4" height="1" fill="#ff8400"/>
<g fill="#ff8400" transform="translate(778,239)"><use href="#g37" x="0"/><use href="#g30" x="5"/><use href="#g34" x="10"/></g>
<rect x="773" y="228" width="4" height="1" fill="#ff8400"/>
<g fill="#ff8400" transform="translate(778,224)"><use href="#g37" x="0"/><use href="#g39" x="5"/><use href="#g32" x="10"/></g>
<g fill="#339933" transform="translate(6,50)"><use href="#g68" x="0"/><use href="#g50" x="5"/><use href="#g61" x="10"/></g>
<g fill="#9400d3" transform="translate(40,50)"><use href="#g25" x="0"/></g>
<g fill="#ff0000" transform="translate(57,50)"><use href="#gb0" x="0"/><use href="#g43" x="5"/></g>
<g fill="#000" transform="translate(746,50)"><use href="#g6d" x="0"/><use href="#g2f" x="5"/><use href="#g73" x="10"/></g>
<g fill="#00bfff" transform="translate(763,50)"><use href="#g6d" x="0"/><use href="#g6d" x="5"/></g>
<g fill="#ff8400" transform="translate(778,50)"><use href="#g57" x="0"/></g>
<g fill="#000" transform="translate(733,370)"><use href="#g10d" x="0"/><use href="#g61" x="5"/><use href="#g73" x="10"/></g>
<g fill="#000" transform="translate(66,397) rotate(-90)"><use href="#g30" x="0"/><use href="#g30" x="5"/><use href="#g3a" x="10"/><use href="#g32" x="15"/><use href="#g30" x="20"/></g>
<g fill="#000" transform="translate(95,397) rotate(-90)"><use href="#g30" x="0"/><use href="#g31" x="5"/><use href="#g3a" x="10"/><use href="#g32" x="15"/><use href="#g30" x="20"/></g>
<g fill="#000" transform="translate(125,397) rotate(-90)"><use href="#g30" x="0"/><use href="#g32" x="5"/><use href="#g3a" x="10"/><use href="#g32" x="15"/><use href="#g30" x="20"/></g>
<g fill="#000" transform="translate(155,397) rotate(-90)"><use href="#g30" x="0"/><use href="#g33" x="5"/><use href="#g3a" x="10"/><use href="#g32" x="15"/><use href="#g30" x="20"/></g>
<g fill="#000" transform="translate(184,397) rotate(-90)"><use href="#g30" x="0"/><use href="#g34" x="5"/><use href="#g3a" x="10"/><use href="#g32" x="15"/><use href="#g30" x="20"/></g>
<g fill="#000" transform="translate(214,397) rotate(-90)"><use href="#g30" x="0"/><use href="#g35" x="5"/><use href="#g3a" x="10"/><use href="#g32" x="15"/><use href="#g30" x="20"/></g>
<g fill="#000" transform="translate(244,397) rotate(-90)"><use href="#g30" x="0"/><use href="#g36" x="5"/><use href="#g3a" x="10"/><use href="#g32" x="15"/><use href="#g30" x="20"/></g>
<g fill="#000" transform="translate(273,397) rotate(-90)"><use href="#g30" x="0"/><use href="#g37" x="5"/><use href="#g3a" x="10"/><use href="#g32" x="15"/><use href="#g30" x="20"/></g>
<g fill="#000" transform="translate(303,397) rotate(-90)"><use href="#g30" x="0"/><use href="#g38" x="5"/><use href="#g3a" x="10"/><use href="#g32" x="15"/><use href="#g30" x="20"/></g>
<g fill="#000" transform="translate(333,397) rotate(-90)"><use href="#g30" x="0"/><use href="#g39" x="5"/><use href="#g3a" x="10"/><use href="#g32" x="15"/><use href="#g30" x="20"/></g>
<g fill="#000" transform="translate(362,397) rotate(-90)"><use href="#g31" x="0"/><use href="#g30" x="5"/><use href="#g3a" x="10"/><use href="#g32" x="15"/><use href="#g30" x="20"/></g>
<g fill="#000" transform="translate(392,397) rotate(-90)"><use href="#g31" x="0"/><use href="#g31" x="5"/><use href="#g3a" x="10"/><use href="#g32" x="15"/><use href="#g30" x="20"/></g>
<g fill="#000" transform="translate(422,397) rotate(-90)"><use href="#g31" x="0"/><use href="#g32" x="5"/><use href="#g3a" x="10"/><use href="#g32" x="15"/><use href="#g30" x="20"/></g>
<g fill="#000" transform="translate(451,397) rotate(-90)"><use href="#g31" x="0"/><use href="#g33" x="5"/><use href="#g3a" x="10"/><use href="#g32" x="15"/><use href="#g30" x="20"/></g>
<g fill="#000" transform="translate(481,397) rotate(-90)"><use href="#g31" x="0"/><use href="#g34" x="5"/><use href="#g3a" x="10"/><use href="#g32" x="15"/><use href="#g30" x="20"/></g>
<g fill="#000" transform="translate(511,397) rotate(-90)"><use href="#g31" x="0"/><use href="#g35" x="5"/><use href="#g3a" x="10"/><use href="#g32" x="15"/><use href="#g30" x="20"/></g>
<g fill="#000" transform="translate(540,397) rotate(-90)"><use href="#g31" x="0"/><use href="#g36" x="5"/><use href="#g3a" x="10"/><use href="#g32" x="15"/><use href="#g30" x="20"/></g>
<g fill="#000" transform="translate(570,397) rotate(-90)"><use href="#g31" x="0"/><use href="#g38" x="5"/><use href="#g3a" x="10"/><use href="#g32" x="15"/><use href="#g30" x="20"/></g>
<g fill="#000" transform="translate(600,397) rotate(-90)"><use href="#g31" x="0"/><use href="#g39" x="5"/><use href="#g3a" x="10"/><use href="#g32" x="15"/><use href="#g30" x="20"/></g>
<g fill="#000" transform="translate(629,397) rotate(-90)"><use href="#g32" x="0"/><use href="#g30" x="5"/><use href="#g3a" x="10"/><use href="#g32" x="15"/><use href="#g30" x="20"/></g>
<g fill="#000" transform="translate(659,397) rotate(-90)"><use href="#g32" x="0"/><use href="#g31" x="5"/><use href="#g3a" x="10"/><use href="#g32" x="15"/><use href="#g30" x="20"/></g>
<g fill="#000" transform="translate(689,397) rotate(-90)"><use href="#g32" x="0"/><use href="#g32" x="5"/><use href="#g3a" x="10"/><use href="#g32" x="15"/><use href="#g30" x="20"/></g>
<g fill="#000" transform="translate(719,397) rotate(-90)"><use href="#g32" x="0"/><use href="#g33" x="5"/><use href="#g3a" x="10"/><use href="#g32" x="15"/><use href="#g30" x="20"/></g>
<rect x="218" y="356" width="1" height="1" fill="#000"/>
<rect x="216" y="357" width="5" height="1" fill="#000"/>
<rect x="215" y="358" width="2" height="1" fill="#000"/>
<rect x="217" y="358" width="3" height="1" fill="#ffff00"/>
<rect x="220" y="358" width="2" height="1" fill="#000"/>
<rect x="215" y="359" width="1" height="1" fill="#000"/>
<rect x="216" y="359" width="5" height="1" fill="#ffff00"/>
<rect x="221" y="359" width="1" height="1" fill="#000"/>
<rect x="214" y="360" width="2" height="1" fill="#000"/>
<rect x="216" y="360" width="5" height="1" fill="#ffff00"/>
<rect x="221" y="360" width="2" height="1" fill="#000"/>
<rect x="215" y="361" width="1" height="1" fill="#000"/>
<rect x="216" y="361" width="5" height="1" fill="#ffff00"/>
<rect x="221" y="361" width="1" height="1" fill="#000"/>
<rect x="215" y="362" width="2" height="1" fill="#000"/>
<rect x="217" y="362" width="3" height="1" fill="#ffff00"/>
<rect x="220" y="362" width="2" height="1" fill="#000"/>
<rect x="216" y="363" width="5" height="1" fill="#000"/>
<rect x="218" y="364" width="1" height="1" fill="#000"/>
<rect x="574" y="356" width="1" height="1" fill="#000"/>
<rect x="572" y="357" width="5" height="1" fill="#000"/>
<rect x="571" y="358" width="2" height="1" fill="#000"/>
<rect x="573" y="358" width="3" height="1" fill="#ffff00"/>
<rect x="576" y="358" width="2" height="1" fill="#000"/>
<rect x="571" y="359" width="1" height="1" fill="#000"/>
<rect x="572" y="359" width="5" height="1" fill="#ffff00"/>
<rect x="577" y="359" width="1" height="1" fill="#000"/>
<rect x="570" y="360" width="2" height="1" fill="#000"/>
<rect x="572" y="360" width="5" height="1" fill="#ffff00"/>
<rect x="577" y="360" width="2" height="1" fill="#000"/>
<rect x="571" y="361" width="1" height="1" fill="#000"/>
<rect x="572" y="361" width="5" height="1" fill="#ffff00"/>
<rect x="577" y="361" width="1" height="1" fill="#000"/>
<rect x="571" y="362" width="2" height="1" fill="#000"/>
<rect x="573" y="362" width="3" height="1" fill="#ffff00"/>
<rect x="576" y="362" width="2" height="1" fill="#000"/>
<rect x="572" y="363" width="5" height="1" fill="#000"/>
<rect x="574" y="364" width="1" height="1" fill="#000"/>
<rect x="283" y="356" width="1" height="1" fill="#000"/>
<rect x="281" y="357" width="5" height="1" fill="#000"/>
<rect x="280" y="358" width="7" height="1" fill="#000"/>
<rect x="280" y="359" width="7" height="1" fill="#000"/>
<rect x="280" y="360" width="7" height="1" fill="#000"/>
<rect x="280" y="361" width="7" height="1" fill="#000"/>
<rect x="280" y="362" width="7" height="1" fill="#000"/>
<rect x="281" y="363" width="5" height="1" fill="#000"/>
<rect x="283" y="364" width="1" height="1" fill="#000"/>
<rect x="657" y="356" width="1" height="1" fill="#000"/>
<rect x="655" y="357" width="5" height="1" fill="#000"/>
<rect x="654" y="358" width="7" height="1" fill="#000"/>
<rect x="654" y="359" width="7" height="1" fill="#000"/>
<rect x="654" y="360" width="7" height="1" fill="#000"/>
<rect x="654" y="361" width="7" height="1" fill="#000"/>
<rect x="654" y="362" width="7" height="1" fill="#000"/>
<rect x="655" y="363" width="5" height="1" fill="#000"/>
<rect x="657" y="364" width="1" height="1" fill="#000"/>
<rect x="277" y="354" width="1" height="14" fill="#000"/>
<rect x="275" y="363" width="1" height="1" fill="#000"/>
<rect x="276" y="364" width="1" height="1" fill="#000"/>
<rect x="278" y="364" width="1" height="1" fill="#000"/>
<rect x="279" y="363" width="1" height="1" fill="#000"/>
<rect x="663" y="354" width="1" height="14" fill="#000"/>
<rect x="661" y="356" width="1" height="1" fill="#000"/>
<rect x="662" y="355" width="1" height="1" fill="#000"/>
<rect x="664" y="355" width="1" height="1" fill="#000"/>
<rect x="665" y="356" width="1" height="1" fill="#000"/>
<rect x="10" y="9" width="11" height="2" fill="#ff0000"/>
<g fill="#000" transform="translate(25,5)"><use href="#g54" x="0"/><use href="#g65" x="5"/><use href="#g70" x="10"/><use href="#g6c" x="15"/><use href="#g6f" x="20"/><use href="#g74" x="25"/><use href="#g61" x="30"/></g>
<rect x="70" y="9" width="11" height="2" fill="#ff00ff"/>
<g fill="#000" transform="translate(85,5)"><use href="#g50" x="0"/><use href="#g159" x="5"/><use href="#ged" x="10"/><use href="#g7a" x="15"/><use href="#g65" x="20"/><use href="#g6d" x="25"/><use href="#g6e" x="30"/><use href="#ged" x="35"/></g>
<g fill="#000" transform="translate(130,5)"><use href="#g74" x="0"/><use href="#g65" x="5"/><use href="#g70" x="10"/><use href="#g6c" x="15"/><use href="#g6f" x="20"/><use href="#g74" x="25"/><use href="#g61" x="30"/></g>
<rect x="175" y="9" width="11" height="2" fill="#9400d3"/>
<g fill="#000" transform="translate(190,5)"><use href="#g56" x="0"/><use href="#g6c" x="5"/><use href="#g68" x="10"/><use href="#g6b" x="15"/><use href="#g6f" x="20"/><use href="#g73" x="25"/><use href="#g74" x="30"/></g>
<rect x="235" y="9" width="11" height="2" fill="#339933"/>
<g fill="#000" transform="translate(250,5)"><use href="#g54" x="0"/><use href="#g6c" x="5"/><use href="#g61" x="10"/><use href="#g6b" x="15"/></g>
<rect x="280" y="9" width="11" height="2" fill="#00bfff"/>
<g fill="#000" transform="translate(295,5)"><use href="#g53" x="0"/><use href="#g72" x="5"/><use href="#ge1" x="10"/><use href="#g17e" x="15"/><use href="#g6b" x="20"/><use href="#g79" x="25"/></g>
<rect x="335" y="9" width="11" height="2" fill="#000"/>
<g fill="#000" transform="translate(350,5)"><use href="#g52" x="0"/><use href="#g79" x="5"/><use href="#g63" x="10"/><use href="#g68" x="15"/><use href="#g6c" x="20"/><use href="#g6f" x="25"/><use href="#g73" x="30"/><use href="#g74" x="35"/></g>
<g fill="#000" transform="translate(395,5)"><use href="#g76" x="0"/><use href="#g11b" x="5"/><use href="#g74" x="10"/><use href="#g72" x="15"/><use href="#g75" x="20"/></g>
<rect x="430" y="9" width="11" height="2" fill="#0000d0"/>
<g fill="#000" transform="translate(445,5)"><use href="#g4e" x="0"/><use href="#ge1" x="5"/><use href="#g72" x="10"/><use href="#g61" x="15"/><use href="#g7a" x="20"/></g>
<g fill="#000" transform="translate(475,5)"><use href="#g76" x="0"/><use href="#g11b" x="5"/><use href="#g74" x="10"/><use href="#g72" x="15"/><use href="#g75" x="20"/></g>
<rect x="510" y="9" width="11" height="2" fill="#737373"/>
<g fill="#000" transform="translate(525,5)"><use href="#g53" x="0"/><use href="#g6d" x="5"/><use href="#g11b" x="10"/><use href="#g72" x="15"/></g>
<g fill="#000" transform="translate(550,5)"><use href="#g76" x="0"/><use href="#g11b" x="5"/><use href="#g74" x="10"/><use href="#g72" x="15"/><use href="#g75" x="20"/></g>
<g fill="#000" transform="translate(80,20)"><use href="#g6d" x="0"/><use href="#g61" x="5"/><use href="#g78" x="10"/></g>
<g fill="#000" transform="translate(80,30)"><use href="#g6d" x="0"/><use href="#g69" x="5"/><use href="#g6e" x="10"/></g>
<g fill="#000" transform="translate(80,40)"><use href="#g61" x="0"/><use href="#g76" x="5"/><use href="#g67" x="10"/></g>
<g fill="#ff0000" transform="translate(105,20)"><use href="#g35" x="0"/><use href="#g2e" x="5"/><use href="#g31" x="10"/><use href="#gb0" x="15"/><use href="#g43" x="20"/></g>
<g fill="#ff0000" transform="translate(135,20)"><use href="#g31" x="0"/><use href="#g30" x="5"/><use href="#g30" x="10"/><use href="#g25" x="15"/></g>
<g fill="#ff0000" transform="translate(165,20)"><use href="#g31" x="0"/><use href="#g30" x="5"/><use href="#g31" x="10"/><use href="#g39" x="15"/><use href="#g2e" x="20"/><use href="#g32" x="25"/><use href="#g68" x="30"/><use href="#g50" x="35"/><use href="#g61" x="40"/></g>
<g fill="#00bfff" transform="translate(225,20)"><use href="#g30" x="0"/><use href="#g2e" x="5"/><use href="#g32" x="10"/><use href="#g6d" x="15"/><use href="#g6d" x="20"/></g>
<g fill="#0000d0" transform="translate(105,30)"><use href="#g32" x="0"/><use href="#g2e" x="5"/><use href="#g38" x="10"/><use href="#gb0" x="15"/><use href="#g43" x="20"/></g>
<g fill="#0000d0" transform="translate(140,30)"><use href="#g38" x="0"/><use href="#g38" x="5"/><use href="#g25" x="10"/></g>
<g fill="#0000d0" transform="translate(165,30)"><use href="#g31" x="0"/><use href="#g30" x="5"/><use href="#g31" x="10"/><use href="#g34" x="15"/><use href="#g2e" x="20"/><use href="#g32" x="25"/><use href="#g68" x="30"/><use href="#g50" x="35"/><use href="#g61" x="40"/></g>
<g fill="#000" transform="translate(115,40)"><use href="#g34" x="0"/><use href="#gb0" x="5"/><use href="#g43" x="10"/></g>
<g fill="#000" transform="translate(473,20)"><use href="#g57" x="0"/><use href="#g53" x="5"/><use href="#g3a" x="10"/><use href="#g32" x="15"/><use href="#g2e" x="20"/><use href="#g36" x="25"/><use href="#g6d" x="30"/><use href="#g2f" x="35"/><use href="#g73" x="40"/></g>
<g fill="#000" transform="translate(543,20)"><use href="#g57" x="0"/><use href="#g47" x="5"/><use href="#g3a" x="10"/><use href="#g32" x="15"/><use href="#g2e" x="20"/><use href="#g36" x="25"/><use href="#g6d" x="30"/><use href="#g2f" x="35"/><use href="#g73" x="40"/></g>
<g fill="#000" transform="translate(438,30)"><use href="#g53" x="0"/><use href="#g6c" x="5"/><use href="#g75" x="10"/><use href="#g6e" x="15"/><use href="#g63" x="20"/><use href="#g65" x="25"/></g>
<g fill="#000" transform="translate(473,30)"><use href="#g56" x="0"/><use href="#gfd" x="5"/><use href="#g63" x="10"/><use href="#g68" x="15"/><use href="#g6f" x="20"/><use href="#g64" x="25"/><use href="#g3a" x="30"/><use href="#g30" x="35"/><use href="#g35" x="40"/><use href="#g3a" x="45"/><use href="#g34" x="50"/><use href="#g39" x="55"/></g>
<g fill="#000" transform="translate(543,30)"><use href="#g5a" x="0"/><use href="#ge1" x="5"/><use href="#g70" x="10"/><use href="#g61" x="15"/><use href="#g64" x="20"/><use href="#g3a" x="25"/><use href="#g31" x="30"/><use href="#g38" x="35"/><use href="#g3a" x="40"/><use href="#g30" x="45"/><use href="#g37" x="50"/></g>
<g fill="#000" transform="translate(438,40)"><use href="#g4d" x="0"/><use href="#g11b" x="5"/><use href="#g73" x="10"/><use href="#ged" x="15"/><use href="#g63" x="20"/></g>
<g fill="#000" transform="translate(473,40)"><use href="#g56" x="0"/><use href="#gfd" x="5"/><use href="#g63" x="10"/><use href="#g68" x="15"/><use href="#g6f" x="20"/><use href="#g64" x="25"/><use href="#g3a" x="30"/><use href="#g32" x="35"/><use href="#g30" x="40"/><use href="#g3a" x="45"/><use href="#g35" x="50"/><use href="#g33" x="55"/></g>
<g fill="#000" transform="translate(543,40)"><use href="#g5a" x="0"/><use href="#ge1" x="5"/><use href="#g70" x="10"/><use href="#g61" x="15"/><use href="#g64" x="20"/><use href="#g3a" x="25"/><use href="#g37" x="30"/><use href="#g3a" x="35"/><use href="#g31" x="40"/><use href="#g36" x="45"/></g>
<g fill="#000" transform="translate(367,51)"><use href="#b32" x="0"/><use href="#b32" x="7"/><use href="#b2e" x="14"/><use href="#b33" x="21"/><use href="#b2e" x="28"/><use href="#b32" x="35"/><use href="#b30" x="42"/><use href="#b30" x="49"/><use href="#b30" x="56"/></g>
<rect x="0" y="0" width="800" height="1" fill="#000"/><rect x="0" y="399" width="800" height="1" fill="#000"/>
<rect x="0" y="0" width="1" height="400" fill="#000"/><rect x="799" y="0" width="1" height="400" fill="#000"/>
</svg>
</body></html>
